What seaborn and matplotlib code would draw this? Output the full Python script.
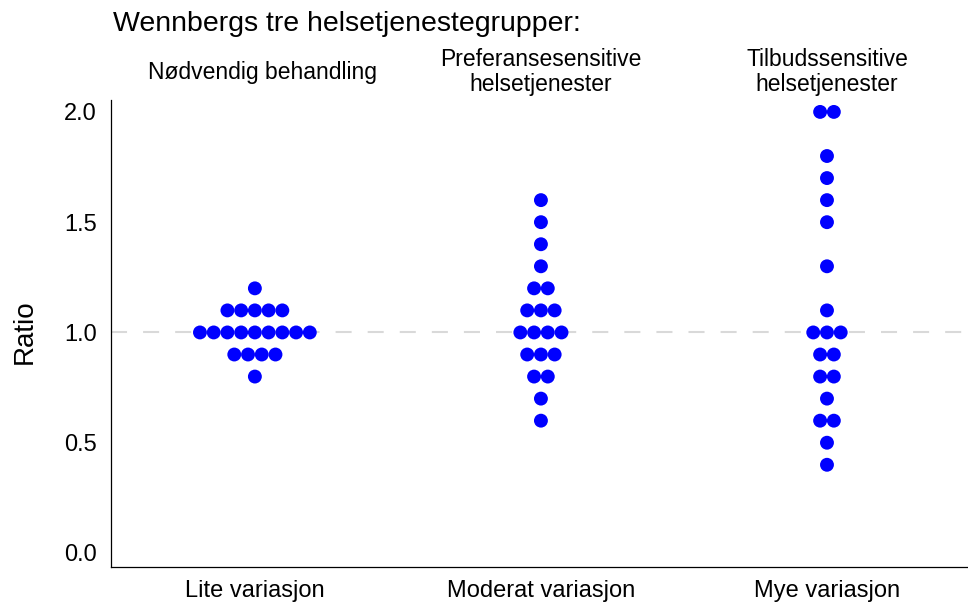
import matplotlib
matplotlib.use('Agg')
import matplotlib.pyplot as plt
import matplotlib.transforms as mtransforms
import numpy as np
import pandas as pd
import seaborn as sns

# ratio values, one list per variation group
categories = ['Lite variasjon', 'Moderat variasjon', 'Mye variasjon']
group_titles = ['Nødvendig behandling',
                'Preferansesensitive\nhelsetjenester',
                'Tilbudssensitive\nhelsetjenester']

lite = [1.2,
        1.1, 1.1, 1.1, 1.1, 1.1,
        1.0, 1.0, 1.0, 1.0, 1.0, 1.0, 1.0, 1.0, 1.0,
        0.9, 0.9, 0.9, 0.9,
        0.8]
moderat = [1.6, 1.5, 1.4, 1.3,
           1.2, 1.2,
           1.1, 1.1, 1.1,
           1.0, 1.0, 1.0, 1.0,
           0.9, 0.9, 0.9,
           0.8, 0.8,
           0.7, 0.6]
mye = [2.0, 2.0, 1.8, 1.7, 1.6, 1.5, 1.3, 1.1,
       1.0, 1.0, 1.0,
       0.9, 0.9,
       0.8, 0.8,
       0.7,
       0.6, 0.6,
       0.5, 0.4]

sns.set_theme(style='white')
plt.rcParams['font.family'] = ['Liberation Sans', 'DejaVu Sans']
plt.rcParams['text.color'] = 'black'
plt.rcParams['axes.labelcolor'] = 'black'

df = pd.concat([pd.DataFrame({'gruppe': i, 'ratio': vals})
                for i, vals in enumerate([lite, moderat, mye])], ignore_index=True)

# centred dot-plot stacking: dots with the same value sit side by side
step = 0.048
df['rank'] = df.groupby(['gruppe', 'ratio']).cumcount()
df['n'] = df.groupby(['gruppe', 'ratio'])['ratio'].transform('size')
df['xpos'] = df['gruppe'] + (df['rank'] - (df['n'] - 1) / 2) * step

fig = plt.figure(figsize=(9.68, 6.07), dpi=100)
ax = fig.add_axes([111 / 968, 40 / 607, 857 / 968, 467 / 607])

ax.axhline(1.0, color='#d9d9d9', lw=1.5, ls=(0, (7.7, 7.7)), zorder=1)
sns.scatterplot(data=df, x='xpos', y='ratio', color='#0000ff', s=100,
                edgecolor='none', linewidth=0, ax=ax, zorder=3)

ax.set_xlim(-0.503, 2.493)
ax.set_ylim(-0.0635, 2.054)
ax.set_xticks(range(len(categories)))
ax.set_xticklabels(categories)
ax.set_yticks([0.0, 0.5, 1.0, 1.5, 2.0])
ax.set_yticklabels(['0.0', '0.5', '1.0', '1.5', '2.0'])
ax.tick_params(axis='both', length=0, labelsize=17, colors='black')
ax.tick_params(axis='y', pad=10)
ax.tick_params(axis='x', pad=9)
ax.set_xlabel('')
ax.set_ylabel('Ratio', fontsize=20)
ax.yaxis.set_label_coords(-0.086, 0.503)

sns.despine(ax=ax)
for side in ['left', 'bottom']:
    ax.spines[side].set_color('black')
    ax.spines[side].set_linewidth(0.9)

fig.text(113 / 968, 1 - 24 / 607, 'Wennbergs tre helsetjenestegrupper:',
         fontsize=20.5, ha='left', va='center')

trans = mtransforms.blended_transform_factory(ax.transData, fig.transFigure)
title_x = [0.025, 0, 0]
for i, txt in enumerate(group_titles):
    ax.text(i + title_x[i], 1 - 72 / 607, txt, transform=trans,
            fontsize=16.5, ha='center', va='center', linespacing=1.1)

fig.savefig('out.png', dpi=100)
